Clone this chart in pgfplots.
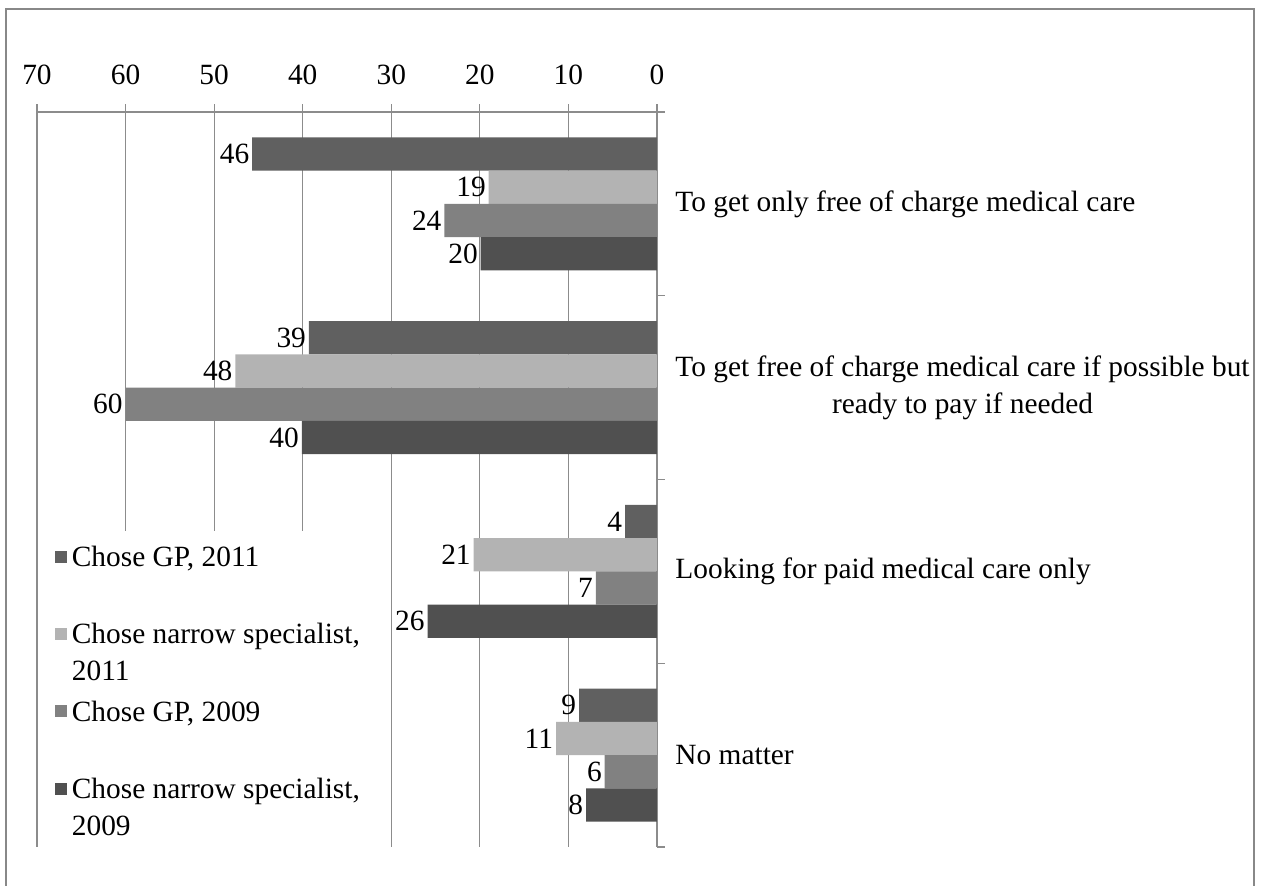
\documentclass[border=0pt]{standalone}
\usepackage{fontspec}
\setmainfont{Liberation Serif}
\usepackage{pgfplots}
\pgfplotsset{compat=1.18}
\definecolor{cA}{HTML}{606060}
\definecolor{cB}{HTML}{B3B3B3}
\definecolor{cC}{HTML}{818181}
\definecolor{cD}{HTML}{505050}
\definecolor{gridgray}{HTML}{8C8C8C}
\definecolor{bordergray}{HTML}{888888}
\begin{document}
\fontsize{11.75}{14.8}\selectfont
\begin{tikzpicture}[x=1pt,y=1pt]
\path[use as bounding box] (0,0) rectangle (506,354);
\draw[line width=1pt, color=bordergray] (2.4,-5) -- (2.4,350.4) -- (501.6,350.4) -- (501.6,-5);
\begin{axis}[
  at={(138.8pt,162.2pt)}, anchor=center,
  scale only axis, width=248pt, height=294pt,
  xbar, bar width=0.181,
  x dir=reverse,
  xmin=0, xmax=70, ymin=-0.5, ymax=3.5,
  axis x line*=top, axis y line*=right,
  axis line style={color=gridgray, line width=0.5pt},
  tick align=outside,
  major tick length=3.2pt,
  tick style={color=gridgray, line width=0.5pt},
  xtick={0,10,...,70},
  xmajorgrids,
  grid style={color=gridgray, line width=0.5pt},
  ytick={-0.5,0.5,1.5,2.5,3.5},
  yticklabels={},
  extra y ticks={0,1,2,3},
  extra y tick labels={No matter, Looking for paid medical care only, {To get free of charge medical care if possible but\\ready to pay if needed}, To get only free of charge medical care},
  extra y tick style={major tick length=0pt, yticklabel style={anchor=west, align=center, inner sep=0pt, xshift=7.2pt}},
  /pgf/number format/assume math mode=true,
  ticklabel style={font=\fontsize{11.75}{14.8}\selectfont},
  xticklabel style={inner sep=0pt, yshift=7.6pt},
  point meta=x,
  nodes near coords={\pgfmathprintnumber[fixed,precision=0]{\pgfplotspointmeta}},
  every node near coord/.append style={anchor=east, inner sep=1pt, font=\fontsize{11.75}{14.8}\selectfont, color=black},
  legend cell align=left,
  legend style={draw=none, fill=white, at={(axis cs:68.6,1.225)}, anchor=north west,
    font=\fontsize{11.75}{14.8}\selectfont, row sep=0pt, inner sep=2pt},
  sq/.style={legend image code/.code={\fill[##1] (0pt,4.6pt) rectangle (4.8pt,9.4pt);}},
]
\addplot[draw=none, fill=cA, bar shift=0.2715, sq] coordinates {(45.7,3) (39.3,2) (3.6,1) (8.8,0)};
\addlegendentry{\begin{tabular}[b]{@{}l@{}}Chose GP, 2011\\ \mbox{}\end{tabular}}
\addplot[draw=none, fill=cB, bar shift=0.0905, sq] coordinates {(19.0,3) (47.6,2) (20.7,1) (11.4,0)};
\addlegendentry{\begin{tabular}[b]{@{}l@{}}Chose narrow specialist,\\2011\end{tabular}}
\addplot[draw=none, fill=cC, bar shift=-0.0905, sq] coordinates {(24.0,3) (60.0,2) (6.9,1) (5.9,0)};
\addlegendentry{\begin{tabular}[b]{@{}l@{}}Chose GP, 2009\\ \mbox{}\end{tabular}}
\addplot[draw=none, fill=cD, bar shift=-0.2715, sq] coordinates {(19.9,3) (40.1,2) (25.9,1) (8.0,0)};
\addlegendentry{\begin{tabular}[b]{@{}l@{}}Chose narrow specialist,\\2009\end{tabular}}
\end{axis}
\end{tikzpicture}
\end{document}
